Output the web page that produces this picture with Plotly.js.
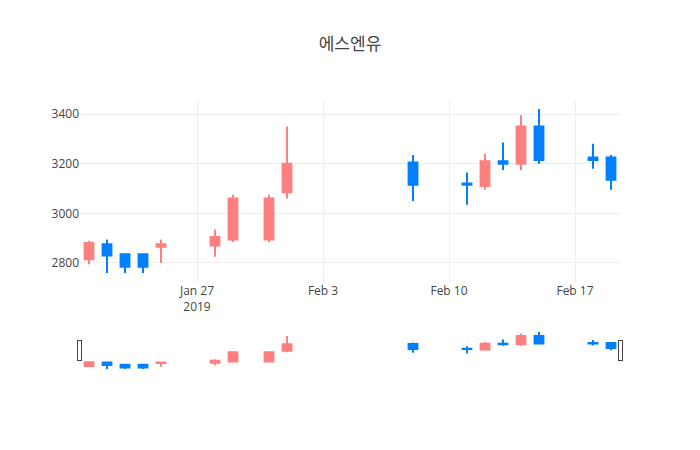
<!DOCTYPE html>
<html>
<head>
<meta charset="utf-8">
<script src="https://cdn.plot.ly/plotly-3.0.1.min.js"></script>
<style>html,body{margin:0;padding:0;background:#fff;}#chart{width:700px;height:450px;}</style>
</head>
<body>
<div id="chart"></div>
<script>
const dates = ['2019-01-21','2019-01-22','2019-01-23','2019-01-24','2019-01-25',
  '2019-01-28','2019-01-29','2019-01-31','2019-02-01',
  '2019-02-08','2019-02-11','2019-02-12','2019-02-13','2019-02-14','2019-02-15',
  '2019-02-18','2019-02-19'];
const openV  = [2815, 2875, 2835, 2835, 2865, 2870, 2895, 2895, 3085, 3205, 3120, 3110, 3210, 3200, 3350, 3225, 3225];
const highV  = [2890, 2895, 2835, 2835, 2895, 2935, 3075, 3075, 3350, 3235, 3165, 3240, 3285, 3395, 3420, 3280, 3235];
const lowV   = [2795, 2760, 2760, 2760, 2800, 2825, 2885, 2885, 3060, 3050, 3035, 3095, 3175, 3175, 3200, 3180, 3095];
const closeV = [2880, 2830, 2785, 2785, 2875, 2905, 3060, 3060, 3200, 3115, 3115, 3210, 3200, 3350, 3215, 3215, 3135];
const chartTitle = '에스엔유';

const trace = {
  type: 'candlestick',
  x: dates, open: openV, high: highV, low: lowV, close: closeV,
  increasing: {line: {color: '#FF7F7F'}, fillcolor: '#FF7F7F'},
  decreasing: {line: {color: '#007FFF'}, fillcolor: '#007FFF'},
  showlegend: false
};
const layout = {
  width: 700, height: 450,
  title: {text: chartTitle, font: {family: '"Noto Sans CJK KR", "Open Sans", sans-serif', size: 17, color: '#444'}},
  font: {family: '"Open Sans", sans-serif', size: 12, color: '#444'},
  paper_bgcolor: '#fff', plot_bgcolor: '#fff',
  xaxis: {type: 'date', rangeslider: {visible: true}},
  yaxis: {}
};
Plotly.newPlot('chart', [trace], layout, {displayModeBar: false});
</script>
</body>
</html>
